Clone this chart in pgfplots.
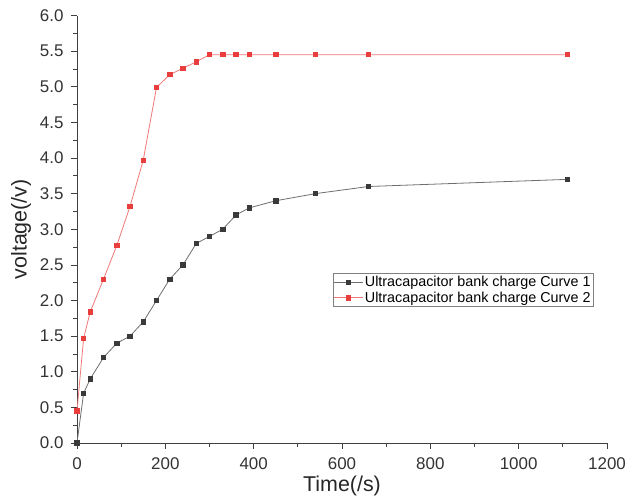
\documentclass[border=0pt]{standalone}
\usepackage{pgfplots}
\pgfplotsset{compat=1.18}
\usepackage{fontspec}
\setmainfont{Liberation Sans}
\definecolor{cOneLine}{HTML}{6E6E6E}
\definecolor{cOneMark}{HTML}{3A3A3A}
\definecolor{cTwoLine}{HTML}{F07878}
\definecolor{cTwoMark}{HTML}{E83E3E}
\begin{document}
\begin{tikzpicture}
\begin{axis}[
	scale only axis,
	width=530bp, height=427.5bp,
	at={(0,0)}, anchor=south west,
	xmin=0, xmax=1200, ymin=0, ymax=6,
	axis x line*=bottom, axis y line*=left,
	axis line style={black!75, line width=0.8pt},
	tick align=outside,
	tick style={black!75, line width=0.7pt},
	major tick length=6bp, minor tick length=3.5bp,
	xtick={0,200,...,1200}, ytick={0,0.5,...,6},
	minor x tick num=1, minor y tick num=1,
	yticklabel style={xshift=-4bp, /pgf/number format/.cd, fixed, fixed zerofill, precision=1},
	xticklabel style={yshift=-5bp, /pgf/number format/.cd, fixed, 1000 sep={}},
	/pgf/number format/assume math mode=true,
	ticklabel style={font=\fontsize{17}{19}\selectfont, text=black!80},
	xlabel={Time(/s)}, ylabel={voltage(/v)},
	label style={font=\fontsize{21.5}{23}\selectfont, text=black!85},
	xlabel style={yshift=0bp},
	ylabel style={yshift=2bp},
	legend style={at={(0.4825,0.397)}, anchor=north west,
		font=\fontsize{14.4}{15}\selectfont, draw=black!50, line width=0.5pt,
		inner sep=1pt, row sep=0pt,
		nodes={inner sep=1.8pt}},
	legend image code/.code={
		\draw[mark repeat=2, mark phase=2] plot coordinates {(0cm,0cm) (0.5cm,0cm) (1.0cm,0cm)};},
	legend cell align=left,
]
\addplot[color=cOneLine, line width=0.8pt, mark=square*, mark size=2.2pt,
	mark options={draw=cOneMark, fill=cOneMark}] coordinates {
	(0,0) (15,0.7) (30,0.9) (60,1.2) (90,1.4) (120,1.5) (150,1.7) (180,2.0)
	(210,2.3) (240,2.5) (270,2.8) (300,2.9) (330,3.0) (360,3.2) (390,3.3)
	(450,3.4) (540,3.5) (660,3.6) (1110,3.7)};
\addlegendentry{Ultracapacitor bank charge Curve 1}
\addplot[color=cTwoLine, line width=0.8pt, mark=square*, mark size=2.2pt,
	mark options={draw=cTwoMark, fill=cTwoMark}] coordinates {
	(0,0.45) (15,1.47) (30,1.84) (60,2.3) (90,2.77) (120,3.32) (150,3.97)
	(180,4.99) (210,5.17) (240,5.26) (270,5.35) (300,5.45) (330,5.45)
	(360,5.45) (390,5.45) (450,5.45) (540,5.45) (660,5.45) (1110,5.45)};
\addlegendentry{Ultracapacitor bank charge Curve 2}
\end{axis}
\path (-77bp,-57bp) rectangle (563bp,443bp);
\end{tikzpicture}
\end{document}
